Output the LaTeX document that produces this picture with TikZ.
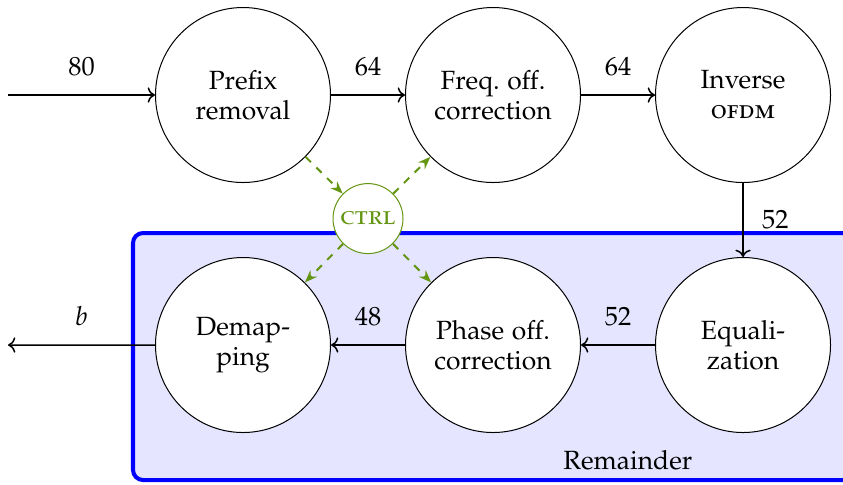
\documentclass[tikz,border=0pt]{standalone}
\usepackage[T1]{fontenc}
\usepackage[sc]{mathpazo}
\usetikzlibrary{arrows.meta,positioning}
\definecolor{ctrlgreen}{RGB}{100,150,20}

\begin{document}
\begin{tikzpicture}[
  node distance=3.5cm,
  font=\fontsize{10.5}{12}\selectfont,
  block/.style={on grid, draw, circle, fill=white, minimum size=2.45cm,
    align=center, inner sep=1pt},
  ctrl/.style={draw=ctrlgreen, text=ctrlgreen, circle, fill=white,
    minimum size=0.98cm, inner sep=1pt},
  region/.style={draw=blue, fill=blue!10, line width=1.6pt, rounded corners=4pt},
  arr/.style={->, semithick},
  ctrlarr/.style={-{Stealth[length=5pt]}, thick, dashed, draw=ctrlgreen},
  lbl/.style={above=4pt}
]
  \useasboundingbox (0,0) rectangle (11.802,-6.776);
  \clip (0,0) rectangle (11.802,-6.776);

  % remainder region
  \draw[region] (1.862,-3.262) rectangle (12.4,-6.72);
  \node (rem) at (8.79,-6.45) {Remainder};

  \node[block] (prefix) at (3.402,-1.33) {Prefix\\removal};
  \node[block, right=of prefix] (freq) {Freq.\ off.\\correction};
  \node[block, right=of freq] (inv) {Inverse\\\textsc{ofdm}};
  \node[block, below=of inv] (equal) {Equali-\\zation};
  \node[block, left=of equal] (phase) {Phase off.\\correction};
  \node[block, left=of phase] (demap) {Demap-\\ping};
  \node[ctrl] (ctrl) at (5.152,-3.06) {\textsc{ctrl}};

  \coordinate (in) at (0.112,-1.33);
  \coordinate (out) at (0.112,-4.83);

  \draw[arr] (in) -- node[lbl] {80} (prefix);
  \draw[arr] (prefix) -- node[lbl] {64} (freq);
  \draw[arr] (freq) -- node[lbl] {64} (inv);
  \draw[arr] (inv) -- node[right=4pt] {52} (equal);
  \draw[arr] (equal) -- node[lbl] {52} (phase);
  \draw[arr] (phase) -- node[lbl] {48} (demap);
  \draw[arr] (demap) -- node[lbl] {$b$} (out);

  % control links
  \draw[ctrlarr] (prefix) -- (ctrl);
  \draw[ctrlarr] (ctrl) -- (freq);
  \draw[ctrlarr] (ctrl) -- (demap);
  \draw[ctrlarr] (ctrl) -- (phase);
\end{tikzpicture}
\end{document}
